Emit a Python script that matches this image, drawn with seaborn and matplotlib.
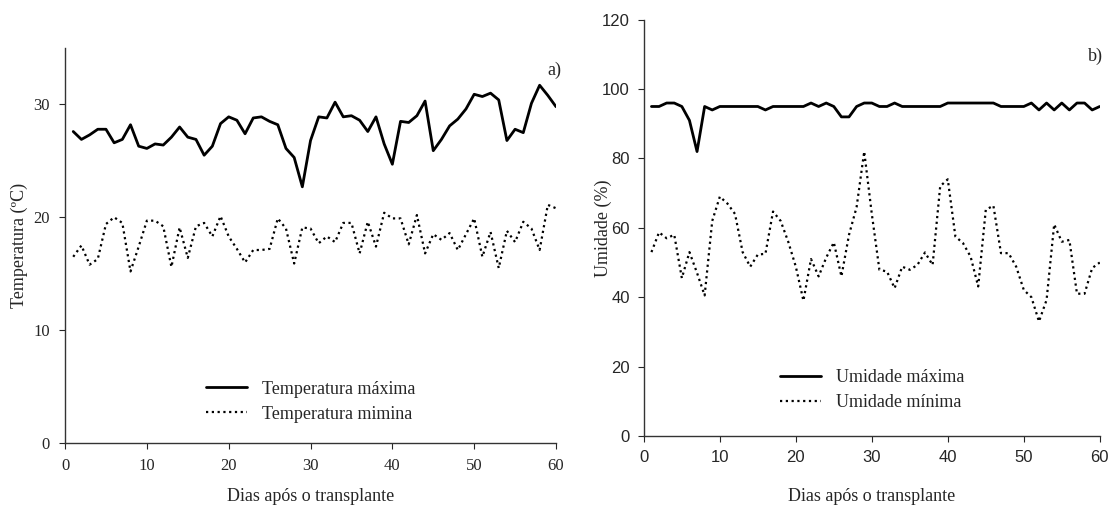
import pandas as pd
import seaborn as sns
import matplotlib.pyplot as plt
import numpy as np

sns.set_style('ticks')
plt.rcParams['font.family'] = ['Liberation Serif', 'DejaVu Serif']

# dias
dias = list(range(1, 61))

# temperatura (ºC)
temp_max = [27.6, 26.9, 27.3, 27.8, 27.8, 26.6, 26.9, 28.2, 26.3, 26.1,
            26.5, 26.4, 27.1, 28.0, 27.1, 26.9, 25.5, 26.3, 28.3, 28.9,
            28.6, 27.4, 28.8, 28.9, 28.5, 28.2, 26.1, 25.3, 22.7, 26.8,
            28.9, 28.8, 30.2, 28.9, 29.0, 28.6, 27.6, 28.9, 26.5, 24.7,
            28.5, 28.4, 29.0, 30.3, 25.9, 26.9, 28.1, 28.7, 29.6, 30.9,
            30.7, 31.0, 30.4, 26.8, 27.8, 27.5, 30.1, 31.7, 30.8, 29.8]
temp_min = [16.5, 17.5, 15.8, 16.3, 19.4, 20.0, 19.5, 15.2, 17.4, 19.7,
            19.7, 19.2, 15.6, 19.1, 16.4, 19.2, 19.5, 18.3, 20.1, 18.3,
            17.2, 16.0, 17.1, 17.1, 17.2, 19.9, 19.0, 15.9, 19.1, 19.0,
            17.7, 18.3, 17.8, 19.5, 19.5, 16.8, 19.6, 17.4, 20.4, 19.9,
            19.9, 17.6, 20.2, 16.8, 18.5, 18.0, 18.6, 17.1, 18.5, 19.9,
            16.5, 18.7, 15.5, 18.8, 17.8, 19.6, 19.0, 17.1, 21.1, 20.8]

# umidade (%)
umid_max = [95, 95, 96, 96, 95, 91, 82, 95, 94, 95,
            95, 95, 95, 95, 95, 94, 95, 95, 95, 95,
            95, 96, 95, 96, 95, 92, 92, 95, 96, 96,
            95, 95, 96, 95, 95, 95, 95, 95, 95, 96,
            96, 96, 96, 96, 96, 96, 95, 95, 95, 95,
            96, 94, 96, 94, 96, 94, 96, 96, 94, 95]
umid_min = [53, 58.7, 57, 58, 45.5, 53, 47, 40.5, 62, 69,
            67, 64, 53, 48.8, 52.3, 52.5, 64.7, 62, 56, 48.8,
            39, 51, 46, 51.4, 55.8, 46, 58, 66, 82, 64,
            47.9, 47.4, 42.6, 48.8, 47.9, 49.3, 52.9, 49.3, 72, 74,
            57.5, 55.6, 51.7, 43.1, 65.2, 66.4, 52.7, 52.7, 48.8, 42.1,
            40, 33, 39.2, 61, 56, 56.5, 41, 41, 48.4, 50]

df_t = pd.DataFrame({'dia': dias, 'tmax': temp_max, 'tmin': temp_min})
df_u = pd.DataFrame({'dia': dias, 'umax': umid_max, 'umin': umid_min})

fig = plt.figure(figsize=(11.12, 5.08), dpi=100)
ax1 = fig.add_axes([0.0585, 0.128, 0.4415, 0.7775])
ax2 = fig.add_axes([0.579, 0.142, 0.410, 0.819])

dot = (0, (1, 1.6))

# painel a)
sns.lineplot(x='dia', y='tmax', data=df_t, ax=ax1, color='black', lw=2.0,
             label='Temperatura máxima')
sns.lineplot(x='dia', y='tmin', data=df_t, ax=ax1, color='black', lw=1.6,
             linestyle=dot, label='Temperatura mimina')
ax1.set_xlim(0, 60)
ax1.set_ylim(0, 35)
ax1.set_xticks(range(0, 61, 10))
ax1.set_yticks([0, 10, 20, 30])
ax1.set_xlabel('Dias após o transplante', fontsize=13)
ax1.set_ylabel('Temperatura (ºC)', fontsize=13)
ax1.xaxis.set_label_coords(0.5, -0.115)
ax1.yaxis.set_label_coords(-0.075, 0.5)
ax1.tick_params(labelsize=12, length=4, width=0.8, direction='out', pad=7)
ax1.text(60.6, 32.6, 'a)', fontsize=13, ha='right')
ax1.legend(loc='lower center', bbox_to_anchor=(0.5, 0.01), frameon=False,
           fontsize=13, handlelength=2.3, labelspacing=0.45)

# painel b)
sns.lineplot(x='dia', y='umax', data=df_u, ax=ax2, color='black', lw=2.0,
             label='Umidade máxima')
sns.lineplot(x='dia', y='umin', data=df_u, ax=ax2, color='black', lw=1.6,
             linestyle=dot, label='Umidade mínima')
ax2.set_xlim(0, 60)
ax2.set_ylim(0, 120)
ax2.set_xticks(range(0, 61, 10))
ax2.set_yticks(range(0, 121, 20))
ax2.set_xlabel('Dias após o transplante', fontsize=13)
ax2.set_ylabel('Umidade (%)', fontsize=13)
ax2.xaxis.set_label_coords(0.5, -0.125)
ax2.yaxis.set_label_coords(-0.07, 0.5)
ax2.tick_params(labelsize=12, length=4, width=0.8, direction='out', pad=6)
for lab in ax2.get_xticklabels() + ax2.get_yticklabels():
    lab.set_family('Liberation Sans')
ax2.text(60.4, 108, 'b)', fontsize=13, ha='right')
ax2.legend(loc='lower center', bbox_to_anchor=(0.5, 0.02), frameon=False,
           fontsize=13, handlelength=2.3, labelspacing=0.45)

for ax in (ax1, ax2):
    sns.despine(ax=ax)
    for s in ('left', 'bottom'):
        ax.spines[s].set_color('#333333')
        ax.spines[s].set_linewidth(1.0)

fig.savefig('out.png', dpi=100)
